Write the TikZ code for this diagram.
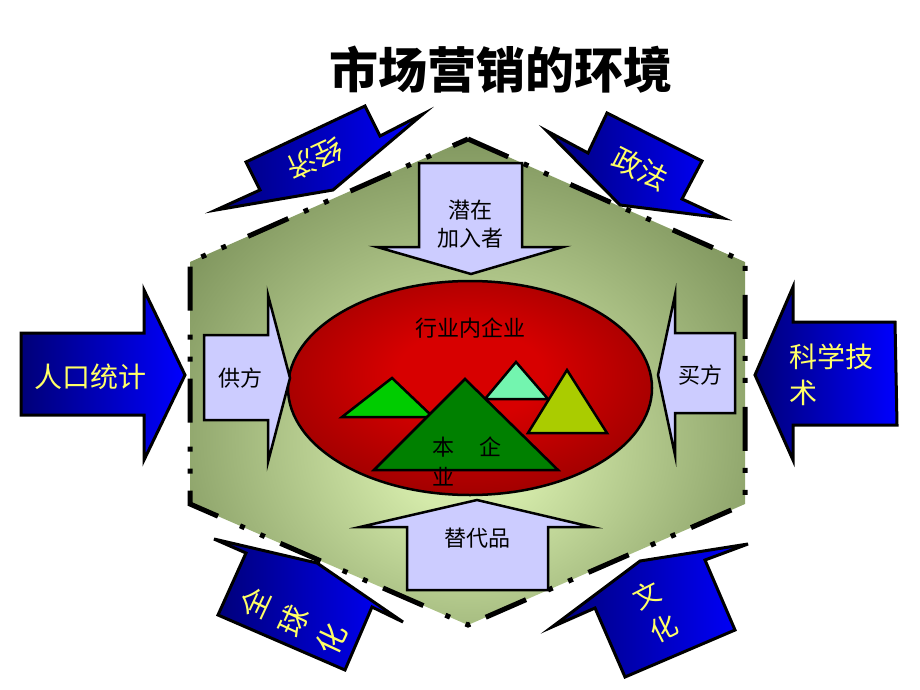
\documentclass[tikz,border=0pt]{standalone}
\usepackage{fontspec}
\newfontfamily\cjk{Noto Sans CJK SC}
\usetikzlibrary{shapes.geometric}
\definecolor{hexin}{RGB}{212,234,170}
\definecolor{hexout}{RGB}{88,110,58}
\definecolor{ellin}{RGB}{215,0,0}
\definecolor{ellout}{RGB}{95,0,0}
\definecolor{lav}{RGB}{204,204,255}
\definecolor{navy}{RGB}{0,0,120}
\definecolor{brightblue}{RGB}{0,0,255}
\definecolor{ylw}{RGB}{255,255,102}
\definecolor{tgreen}{RGB}{0,204,0}
\definecolor{tmint}{RGB}{115,245,175}
\definecolor{tyel}{RGB}{170,204,0}
\definecolor{tdark}{RGB}{0,128,0}
\pgfdeclareradialshading{hexshade}{\pgfpoint{0bp}{-8bp}}{color(0bp)=(hexin);color(6bp)=(hexin);color(42bp)=(hexout);color(75bp)=(hexout)}
\pgfdeclareradialshading{ellshade}{\pgfpoint{0bp}{4bp}}{color(0bp)=(ellin);color(10bp)=(ellin);color(50bp)=(ellout);color(75bp)=(ellout)}
\begin{document}
\begin{tikzpicture}[x=1pt,y=-1pt,
  lbl/.style={font=\cjk\fontsize{22}{28}\selectfont, text=black, align=center, inner sep=0pt},
  ylbl/.style={font=\cjk\fontsize{28}{36}\selectfont, text=ylw, align=center, inner sep=0pt},
  lavarrow/.style={fill=lav, draw=black, line width=2.5pt, line join=miter},
  bluearrow/.style={left color=navy, right color=brightblue, draw=black, line width=3pt, line join=miter},
  tri/.style={draw=black, line width=2.5pt, line join=miter}]
\useasboundingbox (0,0) rectangle (920,690);

% title
\node[font=\cjk\bfseries\fontsize{49}{56}\selectfont, inner sep=0pt] (title) at (501,70) {市场营销的环境};

% hexagon
\shade[shading=hexshade] (468,139) -- (745,262) -- (745,504) -- (468,625) -- (190,504) -- (190,262) -- cycle;
\draw[line width=5pt, dash pattern=on 44pt off 17pt on 5pt off 17pt on 5pt off 24pt]
  (468,139) -- (745,262) -- (745,504) -- (468,625) -- (190,504) -- (190,262) -- cycle;

% ellipse
\shadedraw[shading=ellshade, draw=black, line width=2.5pt] (470,388) ellipse [x radius=182, y radius=107];
\node[lbl] (inner) at (470,328) {行业内企业};

% triangles
\filldraw[tri, fill=tgreen] (342,417) -- (392,378) -- (433,417) -- cycle;
\filldraw[tri, fill=tmint] (485,399) -- (516,362) -- (548,399) -- cycle;
\filldraw[tri, fill=tyel] (528,433) -- (567,370) -- (607,433) -- cycle;
\filldraw[tri, fill=tdark] (374,470) -- (465,379) -- (558,470) -- cycle;
\node[lbl] (ben) at (443,447) {本};
\node[lbl] (qi) at (490,447) {企};
\node[lbl] (ye) at (443,477) {业};

% lavender arrows
\filldraw[lavarrow] (204,335) -- (268,335) -- (268,295) -- (290,378) -- (268,462) -- (268,420) -- (204,420) -- cycle;
\node[lbl] (gong) at (240,378) {供方};
\filldraw[lavarrow] (735,333) -- (675,333) -- (675,295) -- (658,375) -- (675,455) -- (675,413) -- (735,413) -- cycle;
\node[lbl] (mai) at (700,375) {买方};
\filldraw[lavarrow] (419,163) -- (522,163) -- (522,247) -- (563,247) -- (471,274) -- (377,247) -- (419,247) -- cycle;
\node[lbl] (qian) at (470,224) {潜在\\加入者};
\filldraw[lavarrow] (407,590) -- (548,590) -- (548,527) -- (592,527) -- (477,500) -- (360,527) -- (407,527) -- cycle;
\node[lbl] (ti) at (477,538) {替代品};

% blue arrows
\shadedraw[bluearrow] (21,333) -- (144,333) -- (144,290) -- (185,375) -- (144,460) -- (144,415) -- (21,415) -- cycle;
\node[ylbl] (renkou) at (90,377) {人口统计};
\shadedraw[bluearrow] (895,322) -- (793,322) -- (793,287) -- (755,375) -- (793,460) -- (793,425) -- (897,425) -- cycle;
\node[ylbl, align=left, anchor=west] (keji) at (789,375) {科学技\\术};

\shadedraw[bluearrow] (246,162) -- (365,106) -- (380,136) -- (423,114) -- (333,190) -- (216,210) -- (260,190) -- cycle;
\node[ylbl, rotate=205, font=\cjk\fontsize{29}{36}\selectfont] (jingji) at (315,159) {经济};
\shadedraw[bluearrow] (547,131) -- (588,153) -- (607,113) -- (702,161) -- (682,199) -- (723,218) -- (620,205) -- cycle;
\node[ylbl, rotate=-27, font=\cjk\fontsize{29}{36}\selectfont] (zhengfa) at (640,169) {政法};
\shadedraw[bluearrow] (214,539) -- (317,563) -- (403,622) -- (372,607) -- (345,670) -- (218,615) -- (246,553) -- cycle;
\node[ylbl, rotate=65, font=\cjk\fontsize{30}{42}\selectfont] (quanqiu) at (293,621) {全\\球\\化};
\shadedraw[bluearrow] (552,627) -- (640,561) -- (748,544) -- (705,560) -- (735,630) -- (625,677) -- (595,608) -- cycle;
\node[ylbl, rotate=27, font=\cjk\fontsize{27}{37}\selectfont] (wenhua) at (655,612) {文\\化};
\end{tikzpicture}
\end{document}
